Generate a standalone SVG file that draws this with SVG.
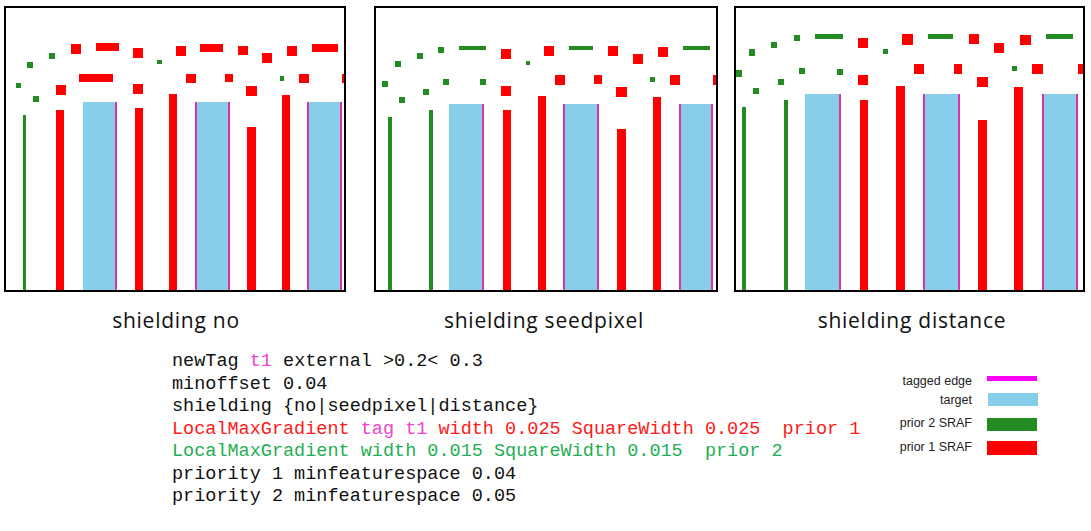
<svg xmlns="http://www.w3.org/2000/svg" width="1091" height="531" viewBox="0 0 1091 531">
<style>
.frame{fill:#fff;stroke:#000;stroke-width:2}
.r{fill:#ff0000}
.g{fill:#228b22}
.t{fill:#87ceeb}
.e{fill:#dd33aa}
.cap{font-family:"Open Sans","DejaVu Sans",sans-serif;font-size:21px;letter-spacing:0.75px;fill:#111;text-anchor:middle}
.code{font-family:"Liberation Mono",monospace;font-size:18.5px;fill:#111;white-space:pre}
.cr{fill:#ff1a1a}
.cm{fill:#ee44cc}
.cg{fill:#1fae55}
.leg{font-family:"Liberation Sans",Arial,sans-serif;font-size:12.5px;fill:#222;text-anchor:end}
</style>
<rect width="1091" height="531" fill="#fff"/>

<g id="panel-no">
<rect class="frame" x="5" y="7" width="340" height="284"/>
<rect class="g" x="16" y="83" width="5" height="5"/>
<rect class="g" x="27" y="62" width="6" height="6"/>
<rect class="g" x="49" y="53" width="6" height="6"/>
<rect class="g" x="33" y="96" width="6" height="6"/>
<rect class="g" x="157" y="60" width="5" height="4"/>
<rect class="g" x="280" y="76" width="4" height="5"/>
<rect class="r" x="71" y="44" width="10" height="10"/>
<rect class="r" x="133" y="48" width="10" height="10"/>
<rect class="r" x="176" y="46" width="10" height="10"/>
<rect class="r" x="238" y="46" width="10" height="9"/>
<rect class="r" x="262" y="53" width="10" height="10"/>
<rect class="r" x="287" y="46" width="10" height="10"/>
<rect class="r" x="56" y="85" width="10" height="10"/>
<rect class="r" x="133" y="84" width="10" height="10"/>
<rect class="r" x="186" y="74" width="10" height="9"/>
<rect class="r" x="225" y="74" width="8" height="8"/>
<rect class="r" x="246" y="86" width="11" height="10"/>
<rect class="r" x="299" y="74" width="10" height="9"/>
<rect class="r" x="342" y="74" width="2" height="9"/>
<rect class="r" x="96" y="43" width="23" height="8"/>
<rect class="r" x="200" y="44" width="23" height="8"/>
<rect class="r" x="312" y="44" width="26" height="8"/>
<rect class="r" x="79" y="74" width="34" height="8"/>
<rect class="g" x="23" y="115" width="3" height="175"/>
<rect class="r" x="56" y="110" width="8" height="180"/>
<rect class="r" x="135" y="108" width="8" height="182"/>
<rect class="r" x="169" y="94" width="8" height="196"/>
<rect class="r" x="247" y="127" width="9" height="163"/>
<rect class="r" x="282" y="95" width="8" height="195"/>
<rect class="t" x="83" y="102" width="32" height="188"/>
<rect class="e" x="115" y="102" width="2" height="188"/>
<rect class="t" x="195" y="102" width="35" height="188"/>
<rect class="e" x="195" y="102" width="2" height="188"/>
<rect class="e" x="228" y="102" width="2" height="188"/>
<rect class="t" x="307" y="102" width="35" height="188"/>
<rect class="e" x="307" y="102" width="2" height="188"/>
<rect class="e" x="340" y="102" width="2" height="188"/>
<text class="cap" x="176" y="328">shielding no</text>
</g>

<g id="panel-seedpixel">
<rect class="frame" x="375" y="7" width="342" height="284"/>
<rect class="g" x="382" y="81" width="6" height="6"/>
<rect class="g" x="395" y="61" width="6" height="6"/>
<rect class="g" x="417" y="53" width="6" height="6"/>
<rect class="g" x="438" y="47" width="6" height="6"/>
<rect class="g" x="399" y="97" width="6" height="6"/>
<rect class="g" x="423" y="89" width="6" height="6"/>
<rect class="g" x="443" y="79" width="6" height="6"/>
<rect class="g" x="480" y="79" width="6" height="6"/>
<rect class="g" x="526" y="61" width="4" height="4"/>
<rect class="g" x="650" y="77" width="5" height="5"/>
<rect class="g" x="459" y="46" width="27" height="4"/>
<rect class="g" x="569" y="46" width="24" height="4"/>
<rect class="g" x="683" y="46" width="27" height="4"/>
<rect class="r" x="501" y="49" width="10" height="10"/>
<rect class="r" x="544" y="46" width="10" height="10"/>
<rect class="r" x="608" y="46" width="10" height="10"/>
<rect class="r" x="633" y="54" width="10" height="10"/>
<rect class="r" x="658" y="47" width="10" height="10"/>
<rect class="r" x="501" y="86" width="10" height="10"/>
<rect class="r" x="555" y="75" width="10" height="10"/>
<rect class="r" x="594" y="75" width="8" height="9"/>
<rect class="r" x="616" y="87" width="11" height="10"/>
<rect class="r" x="670" y="75" width="10" height="10"/>
<rect class="r" x="713" y="75" width="3" height="10"/>
<rect class="g" x="388" y="117" width="4" height="173"/>
<rect class="g" x="429" y="110" width="4" height="180"/>
<rect class="r" x="503" y="110" width="8" height="180"/>
<rect class="r" x="538" y="96" width="8" height="194"/>
<rect class="r" x="617" y="129" width="9" height="161"/>
<rect class="r" x="653" y="97" width="8" height="193"/>
<rect class="t" x="449" y="104" width="33" height="186"/>
<rect class="e" x="482" y="104" width="2" height="186"/>
<rect class="t" x="563" y="104" width="36" height="186"/>
<rect class="e" x="563" y="104" width="2" height="186"/>
<rect class="e" x="597" y="104" width="2" height="186"/>
<rect class="t" x="679" y="104" width="34" height="186"/>
<rect class="e" x="679" y="104" width="2" height="186"/>
<rect class="e" x="711" y="104" width="2" height="186"/>
<text class="cap" x="544" y="328">shielding seedpixel</text>
</g>

<g id="panel-distance">
<rect class="frame" x="735" y="7" width="349" height="284"/>
<rect class="g" x="736" y="70" width="6" height="7"/>
<rect class="g" x="749" y="49" width="6" height="7"/>
<rect class="g" x="771" y="42" width="6" height="6"/>
<rect class="g" x="794" y="35" width="6" height="6"/>
<rect class="g" x="753" y="88" width="6" height="6"/>
<rect class="g" x="778" y="79" width="6" height="6"/>
<rect class="g" x="799" y="68" width="6" height="6"/>
<rect class="g" x="837" y="69" width="6" height="6"/>
<rect class="g" x="883" y="49" width="5" height="5"/>
<rect class="g" x="1012" y="66" width="5" height="5"/>
<rect class="g" x="815" y="34" width="28" height="5"/>
<rect class="g" x="928" y="34" width="25" height="5"/>
<rect class="g" x="1046" y="34" width="27" height="5"/>
<rect class="r" x="858" y="38" width="10" height="10"/>
<rect class="r" x="902" y="34" width="11" height="11"/>
<rect class="r" x="969" y="34" width="10" height="10"/>
<rect class="r" x="994" y="43" width="10" height="10"/>
<rect class="r" x="1020" y="35" width="11" height="10"/>
<rect class="r" x="858" y="75" width="10" height="10"/>
<rect class="r" x="914" y="64" width="10" height="10"/>
<rect class="r" x="954" y="64" width="8" height="10"/>
<rect class="r" x="977" y="77" width="11" height="10"/>
<rect class="r" x="1032" y="64" width="11" height="10"/>
<rect class="r" x="1078" y="64" width="5" height="10"/>
<rect class="g" x="742" y="107" width="4" height="183"/>
<rect class="g" x="784" y="100" width="4" height="190"/>
<rect class="r" x="860" y="100" width="8" height="190"/>
<rect class="r" x="896" y="86" width="9" height="204"/>
<rect class="r" x="978" y="120" width="9" height="170"/>
<rect class="r" x="1014" y="87" width="9" height="203"/>
<rect class="t" x="805" y="94" width="34" height="196"/>
<rect class="e" x="839" y="94" width="2" height="196"/>
<rect class="t" x="923" y="94" width="37" height="196"/>
<rect class="e" x="923" y="94" width="2" height="196"/>
<rect class="e" x="958" y="94" width="2" height="196"/>
<rect class="t" x="1042" y="94" width="36" height="196"/>
<rect class="e" x="1042" y="94" width="2" height="196"/>
<rect class="e" x="1076" y="94" width="2" height="196"/>
<text class="cap" x="912" y="328">shielding distance</text>
</g>

<g id="code">
<text class="code" x="172" y="366">newTag <tspan class="cm">t1</tspan> external &gt;0.2&lt; 0.3</text>
<text class="code" x="172" y="388.5">minoffset 0.04</text>
<text class="code" x="172" y="411">shielding {no|seedpixel|distance}</text>
<text class="code cr" x="172" y="433.5" xml:space="preserve">LocalMaxGradient <tspan class="cm">tag t1</tspan> width 0.025 SquareWidth 0.025  prior 1</text>
<text class="code cg" x="172" y="456" xml:space="preserve">LocalMaxGradient width 0.015 SquareWidth 0.015  prior 2</text>
<text class="code" x="172" y="478.5">priority 1 minfeaturespace 0.04</text>
<text class="code" x="172" y="501">priority 2 minfeaturespace 0.05</text>
</g>

<g id="legend">
<text class="leg" x="972" y="385">tagged edge</text>
<rect x="987" y="376" width="50" height="5" fill="#ff00ff"/>
<text class="leg" x="972" y="404">target</text>
<rect class="t" x="988" y="393" width="50" height="13"/>
<text class="leg" x="972" y="427">prior 2 SRAF</text>
<rect class="g" x="987" y="418" width="50" height="13"/>
<text class="leg" x="972" y="451">prior 1 SRAF</text>
<rect class="r" x="987" y="441" width="50" height="14"/>
</g>
</svg>
